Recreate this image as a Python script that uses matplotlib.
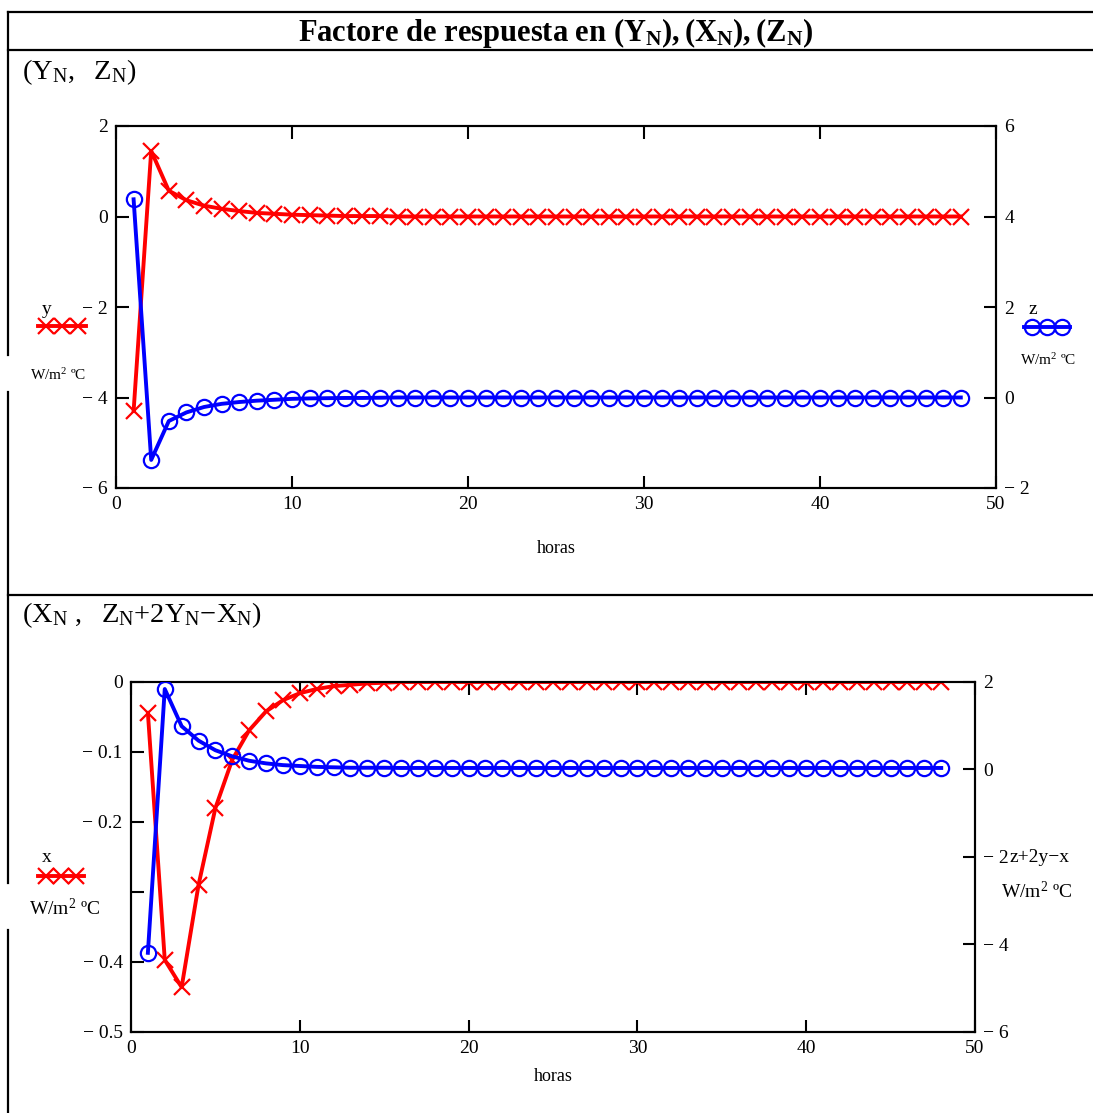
import matplotlib
matplotlib.use("Agg")
import matplotlib.pyplot as plt
from matplotlib.lines import Line2D

plt.rcParams['font.family'] = ['Liberation Serif', 'DejaVu Serif']
plt.rcParams['mathtext.fontset'] = 'custom'
plt.rcParams['mathtext.rm'] = 'Liberation Serif'
plt.rcParams['mathtext.it'] = 'Liberation Serif'
plt.rcParams['mathtext.bf'] = 'Liberation Serif:bold'

# datos (horas 1..48)
horas = list(range(1, 49))
Y_N = [-4.30, 1.45, 0.57, 0.36, 0.24, 0.17, 0.12, 0.08, 0.06, 0.04,
       0.03, 0.02, 0.01, 0.01, 0.01] + [0.0] * 33
Z_N = [4.38, -1.38, -0.52, -0.33, -0.21, -0.14, -0.10, -0.07, -0.05, -0.03,
       -0.02, -0.015, -0.01, -0.01, -0.005] + [0.0] * 33
X_N = [-0.044, -0.397, -0.436, -0.290, -0.180, -0.111, -0.069, -0.042, -0.026, -0.016,
       -0.010, -0.006, -0.004, -0.002, -0.001] + [0.0] * 33
W_N = [-4.19, 1.84, 0.99, 0.66, 0.44, 0.30, 0.20, 0.14, 0.10, 0.08,
       0.06, 0.05, 0.04, 0.04, 0.04] + [0.035] * 33   # Z+2Y-X

MINUS = "\u2212 "

W, H = 1093, 1113
fig = plt.figure(figsize=(W / 100, H / 100), dpi=100)


def fx(px):
    return px / W


def fy(py):
    return 1 - py / H


def rect(l, t, r, b):
    return [fx(l), fy(b), fx(r) - fx(l), fy(t) - fy(b)]


def fmt(v, dec=0):
    s = ("%." + str(dec) + "f") % abs(v)
    if v < 0:
        return MINUS + s
    return s


def style_ax(ax):
    for sp in ax.spines.values():
        sp.set_linewidth(1.5)
    ax.tick_params(direction='in', length=9, width=1.5, labelsize=14, pad=6)


red_kw = dict(color='red', lw=2.8, marker='x', ms=12, mew=1.6)
blue_kw = dict(color='blue', lw=2.8, marker='o', ms=11, mfc='none', mew=1.6)

# ---------------- grafico superior ----------------
ax1 = fig.add_axes(rect(116, 126, 996, 488))
ax1r = ax1.twinx()
ax1.plot(horas, Y_N, **red_kw, zorder=3)
ax1r.plot(horas, Z_N, **blue_kw, zorder=3)
ax1.set_xlim(0, 50)
ax1.set_ylim(-6, 2)
ax1r.set_ylim(-2, 6)
ax1.set_xticks([0, 10, 20, 30, 40, 50])
ax1.set_xticklabels([fmt(v) for v in [0, 10, 20, 30, 40, 50]])
ax1.set_yticks([-6, -4, -2, 0, 2])
ax1.set_yticklabels([fmt(v) for v in [-6, -4, -2, 0, 2]])
ax1r.set_yticks([-2, 0, 2, 4, 6])
ax1r.set_yticklabels([fmt(v) for v in [-2, 0, 2, 4, 6]])
style_ax(ax1)
style_ax(ax1r)
ax1.tick_params(axis='x', top=True)
ax1.set_xlabel("horas", fontsize=13, labelpad=19)

# ---------------- grafico inferior ----------------
ax2 = fig.add_axes(rect(131, 682, 975, 1032))
ax2r = ax2.twinx()
ax2.plot(horas, X_N, **red_kw, zorder=3)
ax2r.plot(horas, W_N, **blue_kw, zorder=3)
ax2.set_xlim(0, 50)
ax2.set_ylim(-0.5, 0)
ax2r.set_ylim(-6, 2)
ax2.set_xticks([0, 10, 20, 30, 40, 50])
ax2.set_xticklabels([fmt(v) for v in [0, 10, 20, 30, 40, 50]])
ax2.set_yticks([-0.5, -0.4, -0.3, -0.2, -0.1, 0])
ax2.set_yticklabels([fmt(-0.5, 1), fmt(-0.4, 1), "", fmt(-0.2, 1), fmt(-0.1, 1), "0"])
ax2r.set_yticks([-6, -4, -2, 0, 2])
ax2r.set_yticklabels([fmt(v) for v in [-6, -4, -2, 0, 2]])
style_ax(ax2)
style_ax(ax2r)
ax2.tick_params(axis='x', top=True)
ax2.set_xlabel("horas", fontsize=13, labelpad=8)

# ---------------- marcos ----------------
def fline(xs, ys, **kw):
    fig.add_artist(Line2D([fx(x) for x in xs], [fy(y) for y in ys],
                          transform=fig.transFigure, **kw))


for yy in (12, 50, 595):
    fline([8, W], [yy, yy], color='black', lw=1.6)
fline([8, 8], [12, 355], color='black', lw=1.6)
fline([8, 8], [392, 883], color='black', lw=1.6)
fline([8, 8], [930, H], color='black', lw=1.6)

# ---------------- textos ----------------
fig.text(fx(556), fy(33), r"Factore de respuesta en $\mathbf{(Y_N), (X_N), (Z_N)}$",
         ha='center', va='center', fontsize=22, fontweight='bold')
fig.text(fx(22), fy(72), r"$\mathrm{(Y_N,\ \ Z_N)}$", ha='left', va='center', fontsize=20.5)
fig.text(fx(22), fy(615), r"$\mathrm{(X_N\ ,\ \ Z_N{+}2Y_N{-}X_N)}$", ha='left', va='center', fontsize=20.5)

# leyendas estilo Mathcad
fig.text(fx(47), fy(309), "y", ha='center', va='center', fontsize=14)
fline([38, 86], [326, 326], color='red', lw=2.8)
fline([46, 62, 78], [326] * 3, color='red', lw=0, marker='x', ms=12, mew=1.6)
fig.text(fx(58), fy(375), r"W/m$^2$ ºC", ha='center', va='center', fontsize=11)

fig.text(fx(1033), fy(309), "z", ha='center', va='center', fontsize=14)
fline([1024, 1070], [327, 327], color='blue', lw=2.8)
fline([1032, 1047, 1062], [327] * 3, color='blue', lw=0, marker='o', ms=11, mfc='none', mew=1.6)
fig.text(fx(1048), fy(360), r"W/m$^2$ ºC", ha='center', va='center', fontsize=11)

fig.text(fx(47), fy(858), "x", ha='center', va='center', fontsize=14)
fline([38, 84], [876, 876], color='red', lw=2.8)
fline([46, 61, 76], [876] * 3, color='red', lw=0, marker='x', ms=12, mew=1.6)
fig.text(fx(65), fy(908), r"W/m$^2$ ºC", ha='center', va='center', fontsize=14)

fig.text(fx(1010), fy(858), "z+2y\u2212x", ha='left', va='center', fontsize=14)
fig.text(fx(1037), fy(892), r"W/m$^2$ ºC", ha='center', va='center', fontsize=14)

fig.savefig("out.png", dpi=100)
